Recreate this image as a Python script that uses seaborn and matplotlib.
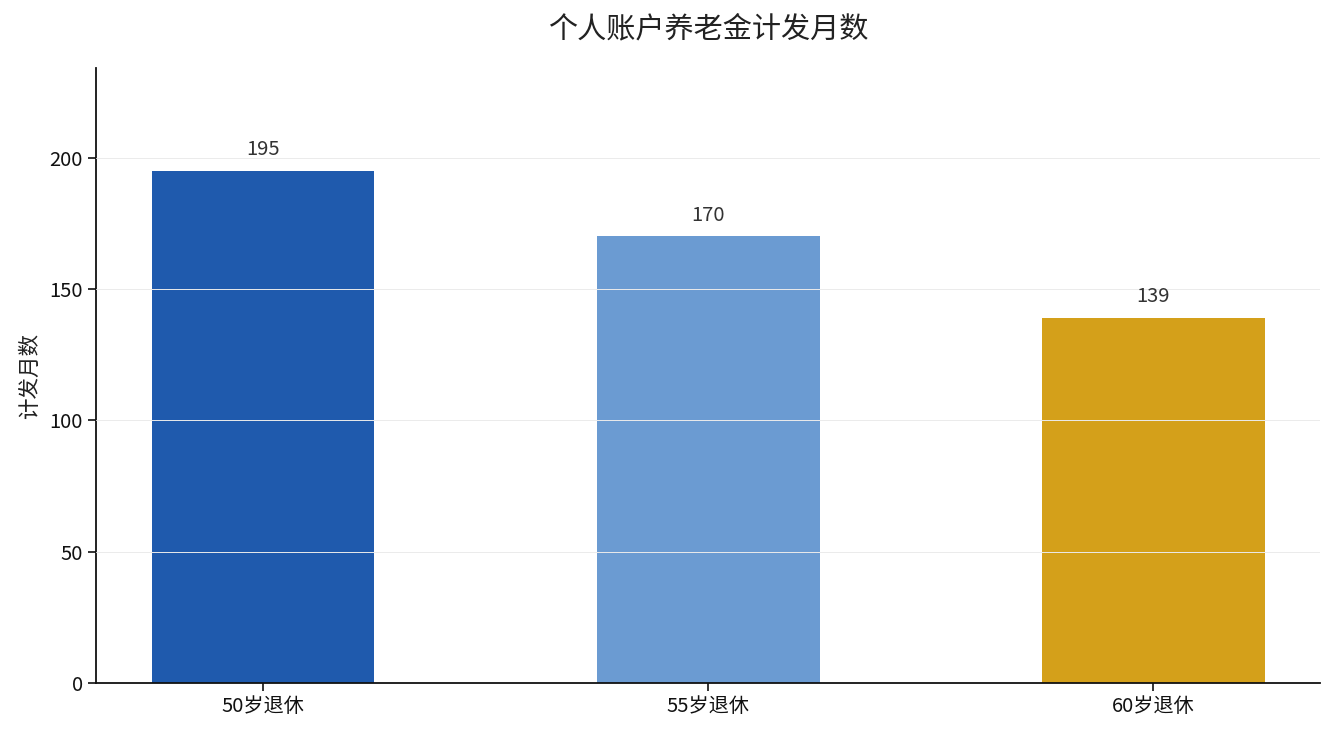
import numpy as np
import pandas as pd
import matplotlib
matplotlib.use("Agg")
import matplotlib.pyplot as plt
import seaborn as sns

# data
categories = ["50岁退休", "55岁退休", "60岁退休"]
months = [195, 170, 139]
bar_colors = ["#1f5aad", "#6b9bd2", "#d4a01a"]

sns.set_style("white")
plt.rcParams['font.family'] = ['Noto Sans CJK SC', 'DejaVu Sans']

df = pd.DataFrame({"退休年龄": categories, "计发月数": months})

fig, ax = plt.subplots(figsize=(13.35, 7.35), dpi=100)
sns.barplot(data=df, x="退休年龄", y="计发月数", hue="退休年龄",
            palette=bar_colors, width=0.5, legend=False, ax=ax,
            saturation=1, linewidth=0)

ax.set_ylim(0, max(months) * 1.2)
ax.set_xlim(-0.375, 2.375)
ax.yaxis.grid(True, color="#ebebeb", linewidth=0.7)
ax.set_axisbelow(False)

for i, v in enumerate(months):
    ax.text(i, v + 4, str(v), ha="center", va="bottom", fontsize=14.5, color="#333333")

ax.set_title("个人账户养老金计发月数", fontsize=21, color="#222222", pad=22)
ax.set_xlabel("")
ax.set_ylabel("计发月数", fontsize=15.5, color="#222222", labelpad=6)
ax.tick_params(axis="both", labelsize=14.5, length=6, width=1.2, colors="#111111",
               bottom=True, left=True)
sns.despine(ax=ax)
for s in ["left", "bottom"]:
    ax.spines[s].set_linewidth(1.3)
    ax.spines[s].set_color("#111111")

fig.subplots_adjust(left=0.072, right=0.989, top=0.907, bottom=0.071)
fig.savefig("out.png", dpi=100)
